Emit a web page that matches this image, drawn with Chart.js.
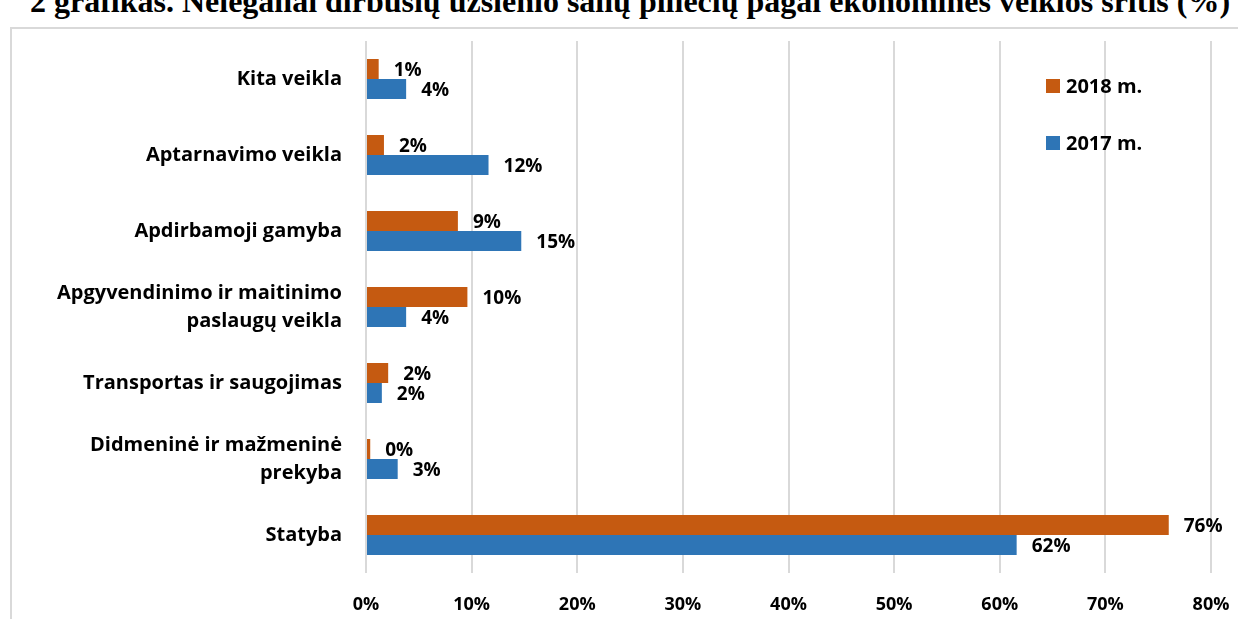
<!DOCTYPE html>
<html>
<head>
<meta charset="utf-8">
<script src="https://cdn.jsdelivr.net/npm/chart.js@4"></script>
<style>
  html, body { margin: 0; padding: 0; background: #fff; overflow: hidden; }
  #wrap { position: relative; width: 1238px; height: 619px; }
  #title {
    position: absolute; left: 0; top: -15px; width: 1238px; text-align: center;
    font: bold 32px/32px "Liberation Serif", "Times New Roman", serif; color: #000;
    white-space: nowrap; padding-left: 22px; box-sizing: border-box;
  }
  #frame {
    position: absolute; left: 10px; top: 27px; width: 1240px; height: 620px;
    border: 2px solid #d9d9d9; box-sizing: border-box;
  }
  canvas { position: absolute; left: 0; top: 0; }
</style>
</head>
<body>
<div id="wrap">
  <div id="frame"></div>
  <div id="title">2 grafikas. Nelegaliai dirbusių užsienio šalių piliečių pagal ekonominės veiklos sritis (%)</div>
  <canvas id="chart" width="1238" height="619"></canvas>
</div>
<script>
// categories (top to bottom)
const categories = [
    'Kita veikla',
    'Aptarnavimo veikla',
    'Apdirbamoji gamyba',
    ['Apgyvendinimo ir maitinimo', 'paslaugų veikla'],
    'Transportas ir saugojimas',
    ['Didmeninė ir mažmeninė', 'prekyba'],
    'Statyba'
];

// series values (%)
const values2018 = [1.2, 1.7, 8.7, 9.6, 2.1, 0.4, 76.0];
const values2017 = [3.8, 11.6, 14.7, 3.8, 1.5, 3.0, 61.6];

const seriesNames = ['2018 m.', '2017 m.'];
const seriesColors = ['#C55A11', '#2E75B6'];

// x axis ticks
const xMin = 0;
const xMax = 80;
const xStep = 10;

const fontFamily = '"Open Sans", "Noto Sans", sans-serif';

// value labels at bar ends
const barLabels = {
    id: 'barLabels',
    afterDatasetsDraw(chart) {
        const ctx = chart.ctx;
        ctx.save();
        ctx.font = 'bold 19px ' + fontFamily;
        ctx.fillStyle = '#000';
        ctx.textAlign = 'left';
        ctx.textBaseline = 'middle';
        chart.data.datasets.forEach((ds, i) => {
            chart.getDatasetMeta(i).data.forEach((bar, j) => {
                ctx.fillText(Math.round(ds.data[j]) + '%', bar.x + 15, bar.y + 2);
            });
        });
        ctx.restore();
    }
};

// legend drawn inside the plot, top right
const sideLegend = {
    id: 'sideLegend',
    afterDraw(chart) {
        const ctx = chart.ctx;
        ctx.save();
        ctx.font = 'bold 20px ' + fontFamily;
        ctx.textBaseline = 'middle';
        chart.data.datasets.forEach((ds, i) => {
            const y = 86 + i * 57;
            ctx.fillStyle = ds.backgroundColor;
            ctx.fillRect(1046, y - 7, 14, 14);
            ctx.fillStyle = '#000';
            ctx.fillText(ds.label, 1066, y + 1);
        });
        ctx.restore();
    }
};

const chart = new Chart(document.getElementById('chart'), {
    type: 'bar',
    data: {
        labels: categories,
        datasets: [
            { label: seriesNames[0], data: values2018, backgroundColor: seriesColors[0] },
            { label: seriesNames[1], data: values2017, backgroundColor: seriesColors[1] }
        ]
    },
    options: {
        indexAxis: 'y',
        responsive: false,
        animation: false,
        events: [],
        layout: { padding: { top: 41, right: 27, bottom: 0, left: 0 } },
        datasets: { bar: { barPercentage: 1, categoryPercentage: 0.526 } },
        scales: {
            x: {
                min: xMin,
                max: xMax,
                ticks: {
                    stepSize: xStep,
                    callback: v => v + '%',
                    color: '#000',
                    padding: 21,
                    font: { family: fontFamily, size: 18, weight: 'bold' }
                },
                grid: { color: '#d9d9d9', lineWidth: 2, drawTicks: false },
                border: { display: false },
                afterFit: s => { s.height = 46; s.paddingLeft = 0; s.paddingRight = 0; }
            },
            y: {
                ticks: {
                    color: '#000',
                    padding: 24,
                    font: { family: fontFamily, size: 20, weight: 'bold', lineHeight: 1.4 }
                },
                grid: { display: false, drawTicks: false },
                border: { display: false },
                afterFit: s => { s.width = 366; s.paddingTop = 0; s.paddingBottom = 0; }
            }
        },
        plugins: {
            legend: { display: false },
            tooltip: { enabled: false }
        }
    },
    plugins: [barLabels, sideLegend]
});
</script>
</body>
</html>
